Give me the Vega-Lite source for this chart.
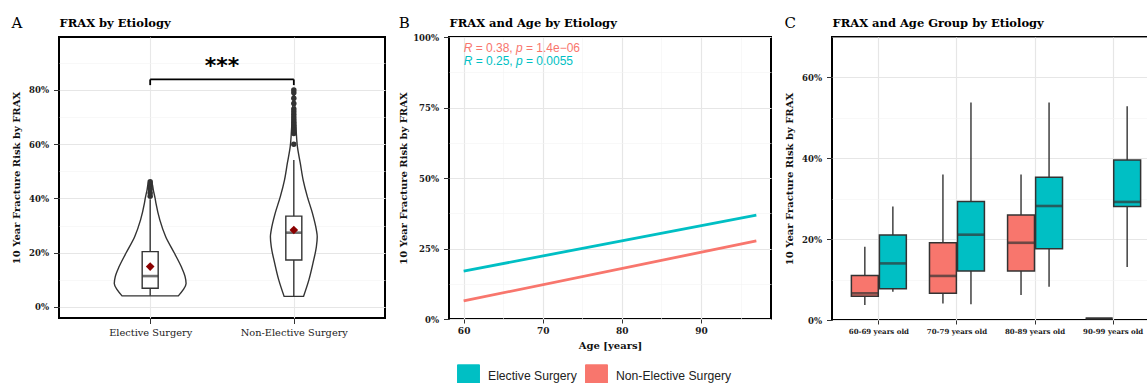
{
  "$schema": "https://vega.github.io/schema/vega-lite/v6.json",
  "background": "white",
  "padding": {"left": 10, "top": 15, "right": 0, "bottom": 0},
  "spacing": 11,
  "resolve": {"scale": {"stroke": "shared"}, "legend": {"stroke": "independent"}},
  "config": {
    "font": "DejaVu Serif",
    "view": {"stroke": "black", "strokeWidth": 2},
    "axis": {
      "domain": false,
      "labelFont": "DejaVu Serif",
      "labelFontWeight": "bold",
      "labelFontSize": 8.5,
      "labelColor": "#1a1a1a",
      "labelPadding": 5,
      "tickColor": "#333333",
      "tickSize": 5.5,
      "tickWidth": 1,
      "titleFont": "DejaVu Serif",
      "titleFontWeight": "bold",
      "titleFontSize": 10,
      "titleColor": "#111111",
      "gridColor": "#e8e8e8",
      "gridWidth": 1.1
    },
    "title": {"font": "DejaVu Serif", "fontSize": 15, "fontWeight": "normal", "anchor": "start", "frame": "bounds", "color": "black", "offset": -14}
  },
  "datasets": {
    "violin": [
      {"etiology": "Elective Surgery", "frax": 0.041, "density": 0.196},
      {"etiology": "Elective Surgery", "frax": 0.063, "density": 0.229},
      {"etiology": "Elective Surgery", "frax": 0.087, "density": 0.250},
      {"etiology": "Elective Surgery", "frax": 0.112, "density": 0.243},
      {"etiology": "Elective Surgery", "frax": 0.149, "density": 0.216},
      {"etiology": "Elective Surgery", "frax": 0.198, "density": 0.169},
      {"etiology": "Elective Surgery", "frax": 0.259, "density": 0.108},
      {"etiology": "Elective Surgery", "frax": 0.321, "density": 0.067},
      {"etiology": "Elective Surgery", "frax": 0.383, "density": 0.040},
      {"etiology": "Elective Surgery", "frax": 0.401, "density": 0.034},
      {"etiology": "Elective Surgery", "frax": 0.431, "density": 0.022},
      {"etiology": "Elective Surgery", "frax": 0.455, "density": 0.013},
      {"etiology": "Elective Surgery", "frax": 0.464, "density": 0.0},
      {"etiology": "Non-Elective Surgery", "frax": 0.039, "density": 0.0675},
      {"etiology": "Non-Elective Surgery", "frax": 0.100, "density": 0.105},
      {"etiology": "Non-Elective Surgery", "frax": 0.161, "density": 0.133},
      {"etiology": "Non-Elective Surgery", "frax": 0.222, "density": 0.157},
      {"etiology": "Non-Elective Surgery", "frax": 0.259, "density": 0.163},
      {"etiology": "Non-Elective Surgery", "frax": 0.284, "density": 0.157},
      {"etiology": "Non-Elective Surgery", "frax": 0.345, "density": 0.130},
      {"etiology": "Non-Elective Surgery", "frax": 0.407, "density": 0.094},
      {"etiology": "Non-Elective Surgery", "frax": 0.468, "density": 0.065},
      {"etiology": "Non-Elective Surgery", "frax": 0.530, "density": 0.045},
      {"etiology": "Non-Elective Surgery", "frax": 0.591, "density": 0.025},
      {"etiology": "Non-Elective Surgery", "frax": 0.653, "density": 0.016},
      {"etiology": "Non-Elective Surgery", "frax": 0.715, "density": 0.009},
      {"etiology": "Non-Elective Surgery", "frax": 0.770, "density": 0.005},
      {"etiology": "Non-Elective Surgery", "frax": 0.806, "density": 0.0}
    ],
    "boxA": [
      {"etiology": "Elective Surgery", "lower": 0.041, "q1": 0.069, "median": 0.114, "q3": 0.204, "upper": 0.397, "mean": 0.149},
      {"etiology": "Non-Elective Surgery", "lower": 0.039, "q1": 0.173, "median": 0.274, "q3": 0.335, "upper": 0.542, "mean": 0.284}
    ],
    "outliersA": [
      {"etiology": "Elective Surgery", "frax": 0.408},
      {"etiology": "Elective Surgery", "frax": 0.42},
      {"etiology": "Elective Surgery", "frax": 0.435},
      {"etiology": "Elective Surgery", "frax": 0.445},
      {"etiology": "Elective Surgery", "frax": 0.455},
      {"etiology": "Elective Surgery", "frax": 0.462},
      {"etiology": "Non-Elective Surgery", "frax": 0.60},
      {"etiology": "Non-Elective Surgery", "frax": 0.64},
      {"etiology": "Non-Elective Surgery", "frax": 0.65},
      {"etiology": "Non-Elective Surgery", "frax": 0.66},
      {"etiology": "Non-Elective Surgery", "frax": 0.67},
      {"etiology": "Non-Elective Surgery", "frax": 0.68},
      {"etiology": "Non-Elective Surgery", "frax": 0.69},
      {"etiology": "Non-Elective Surgery", "frax": 0.70},
      {"etiology": "Non-Elective Surgery", "frax": 0.71},
      {"etiology": "Non-Elective Surgery", "frax": 0.72},
      {"etiology": "Non-Elective Surgery", "frax": 0.73},
      {"etiology": "Non-Elective Surgery", "frax": 0.75},
      {"etiology": "Non-Elective Surgery", "frax": 0.77},
      {"etiology": "Non-Elective Surgery", "frax": 0.79},
      {"etiology": "Non-Elective Surgery", "frax": 0.80}
    ],
    "bracket": [
      {"from": 1, "to": 2, "top": 0.839, "bottom": 0.839},
      {"from": 1, "to": 1, "top": 0.839, "bottom": 0.818},
      {"from": 2, "to": 2, "top": 0.839, "bottom": 0.818}
    ],
    "fitB": [
      {"etiology": "Elective Surgery", "age": 60, "frax": 0.170},
      {"etiology": "Elective Surgery", "age": 97, "frax": 0.368},
      {"etiology": "Non-Elective Surgery", "age": 60, "frax": 0.064},
      {"etiology": "Non-Elective Surgery", "age": 97, "frax": 0.277}
    ],
    "corB": [
      {"etiology": "Non-Elective Surgery", "r": "R", "rtext": "= 0.38,", "p": "p", "ptext": "= 1.4e\u221206", "age": 60, "level": 0.962},
      {"etiology": "Elective Surgery", "r": "R", "rtext": "= 0.25,", "p": "p", "ptext": "= 0.0055", "age": 60, "level": 0.915}
    ],
    "boxC": [
      {"age": "60-69 years old", "etiology": "Non-Elective Surgery", "lower": 0.037, "q1": 0.059, "median": 0.066, "q3": 0.110, "upper": 0.181},
      {"age": "60-69 years old", "etiology": "Elective Surgery", "lower": 0.070, "q1": 0.077, "median": 0.140, "q3": 0.210, "upper": 0.281},
      {"age": "70-79 years old", "etiology": "Non-Elective Surgery", "lower": 0.041, "q1": 0.066, "median": 0.109, "q3": 0.191, "upper": 0.360},
      {"age": "70-79 years old", "etiology": "Elective Surgery", "lower": 0.039, "q1": 0.121, "median": 0.211, "q3": 0.293, "upper": 0.538},
      {"age": "80-89 years old", "etiology": "Non-Elective Surgery", "lower": 0.062, "q1": 0.121, "median": 0.191, "q3": 0.260, "upper": 0.360},
      {"age": "80-89 years old", "etiology": "Elective Surgery", "lower": 0.082, "q1": 0.176, "median": 0.282, "q3": 0.353, "upper": 0.538},
      {"age": "90-99 years old", "etiology": "Non-Elective Surgery", "lower": 0.004, "q1": 0.004, "median": 0.004, "q3": 0.004, "upper": 0.004},
      {"age": "90-99 years old", "etiology": "Elective Surgery", "lower": 0.131, "q1": 0.281, "median": 0.292, "q3": 0.396, "upper": 0.529}
    ]
  },
  "hconcat": [
    {
      "width": 326,
      "height": 281,
      "title": "A",
      "layer": [
        {
          "data": {"name": "violin"},
          "transform": [
            {"calculate": "indexof(['Elective Surgery', 'Non-Elective Surgery'], datum.etiology) + 1", "as": "pos"},
            {"calculate": "datum.pos - datum.density", "as": "left"},
            {"calculate": "datum.pos + datum.density", "as": "right"}
          ],
          "mark": {"type": "area", "orient": "horizontal", "interpolate": "monotone", "fill": "white", "stroke": "#333333", "strokeWidth": 1.4},
          "encoding": {
            "y": {
              "field": "frax", "type": "quantitative",
              "scale": {"domain": [-0.0406, 0.9954], "nice": false, "zero": false},
              "axis": {
                "title": "10 Year Fracture Risk by FRAX",
                "titlePadding": 7,
                "values": [0, 0.1, 0.2, 0.3, 0.4, 0.5, 0.6, 0.7, 0.8, 0.9],
                "labelExpr": "round(datum.value * 100) % 20 === 0 ? format(datum.value, '.0%') : ''",
                "tickOpacity": {"condition": {"test": "round(datum.value * 100) % 20 === 0", "value": 1}, "value": 0},
                "gridColor": {"condition": {"test": "round(datum.value * 100) % 20 === 0", "value": "#e6e6e6"}, "value": "#f3f3f3"},
                "gridWidth": {"condition": {"test": "round(datum.value * 100) % 20 === 0", "value": 1.2}, "value": 0.6}
              }
            },
            "x": {
              "field": "left", "type": "quantitative", "stack": null,
              "scale": {"domain": [0.4, 2.6], "nice": false, "zero": false},
              "axis": {
                "title": null,
                "values": [1, 2],
                "labelExpr": "datum.value === 1 ? 'Elective Surgery' : 'Non-Elective Surgery'",
                "labelFontSize": 9.8,
                "labelFontWeight": "normal",
                "labelPadding": 4
              }
            },
            "x2": {"field": "right"},
            "detail": {"field": "etiology"}
          }
        },
        {
          "data": {"name": "boxA"},
          "transform": [{"calculate": "indexof(['Elective Surgery', 'Non-Elective Surgery'], datum.etiology) + 1", "as": "pos"}],
          "mark": {"type": "rule", "color": "#333333", "strokeWidth": 1.4},
          "encoding": {
            "x": {"field": "pos", "type": "quantitative", "axis": null},
            "y": {"field": "lower", "type": "quantitative", "axis": null},
            "y2": {"field": "upper"}
          }
        },
        {
          "data": {"name": "boxA"},
          "transform": [{"calculate": "indexof(['Elective Surgery', 'Non-Elective Surgery'], datum.etiology) + 1", "as": "pos"}],
          "mark": {"type": "bar", "orient": "vertical", "width": 16, "fill": "white", "stroke": "#333333", "strokeWidth": 1.4},
          "encoding": {
            "x": {"field": "pos", "type": "quantitative", "axis": null},
            "y": {"field": "q1", "type": "quantitative", "axis": null},
            "y2": {"field": "q3"}
          }
        },
        {
          "data": {"name": "boxA"},
          "transform": [{"calculate": "indexof(['Elective Surgery', 'Non-Elective Surgery'], datum.etiology) + 1", "as": "pos"}],
          "mark": {"type": "tick", "orient": "horizontal", "size": 16, "thickness": 2.6, "color": "#333333"},
          "encoding": {
            "x": {"field": "pos", "type": "quantitative", "axis": null},
            "y": {"field": "median", "type": "quantitative", "axis": null}
          }
        },
        {
          "data": {"name": "outliersA"},
          "transform": [{"calculate": "indexof(['Elective Surgery', 'Non-Elective Surgery'], datum.etiology) + 1", "as": "pos"}],
          "mark": {"type": "point", "filled": true, "color": "#333333", "size": 30, "opacity": 1},
          "encoding": {
            "x": {"field": "pos", "type": "quantitative", "axis": {"orient": "top", "title": "FRAX by Etiology", "titleAnchor": "start", "titleFontSize": 11.5, "titleFontWeight": "bold", "titleColor": "black", "titlePadding": 9, "labels": false, "ticks": false, "domain": false, "grid": false}},
            "y": {"field": "frax", "type": "quantitative", "axis": null}
          }
        },
        {
          "data": {"name": "boxA"},
          "transform": [{"calculate": "indexof(['Elective Surgery', 'Non-Elective Surgery'], datum.etiology) + 1", "as": "pos"}],
          "mark": {"type": "point", "shape": "diamond", "filled": true, "color": "#8b0000", "size": 75, "opacity": 1},
          "encoding": {
            "x": {"field": "pos", "type": "quantitative", "axis": null},
            "y": {"field": "mean", "type": "quantitative", "axis": null}
          }
        },
        {
          "data": {"name": "bracket"},
          "mark": {"type": "rule", "color": "black", "strokeWidth": 1.8},
          "encoding": {
            "x": {"field": "from", "type": "quantitative", "axis": null},
            "x2": {"field": "to"},
            "y": {"field": "top", "type": "quantitative", "axis": null},
            "y2": {"field": "bottom"}
          }
        },
        {
          "data": {"values": [{"label": "***", "mid": 1.5, "level": 0.862}]},
          "mark": {"type": "text", "font": "DejaVu Sans", "fontSize": 22, "fontWeight": "bold", "baseline": "alphabetic", "align": "center", "color": "black"},
          "encoding": {
            "text": {"field": "label"},
            "x": {"field": "mid", "type": "quantitative", "axis": null},
            "y": {"field": "level", "type": "quantitative", "axis": null}
          }
        }
      ],
      "resolve": {"axis": {"x": "independent", "y": "independent"}}
    },
    {
      "width": 322,
      "height": 282,
      "title": "B",
      "layer": [
        {
          "data": {"name": "fitB"},
          "mark": {"type": "line", "strokeWidth": 2.8},
          "encoding": {
            "x": {
              "field": "age", "type": "quantitative",
              "scale": {"domain": [58.15, 98.85], "nice": false, "zero": false},
              "axis": {
                "title": "Age [years]",
                "titleFontSize": 10,
                "titlePadding": 5,
                "values": [60, 65, 70, 75, 80, 85, 90, 95],
                "labelExpr": "datum.value % 10 === 0 ? datum.value : ''",
                "labelFontSize": 9,
                "labelPadding": 3,
                "tickSize": 4,
                "tickOpacity": {"condition": {"test": "datum.value % 10 === 0", "value": 1}, "value": 0},
                "gridColor": {"condition": {"test": "datum.value % 10 === 0", "value": "#e6e6e6"}, "value": "#f3f3f3"},
                "gridWidth": {"condition": {"test": "datum.value % 10 === 0", "value": 1.2}, "value": 0.6}
              }
            },
            "y": {
              "field": "frax", "type": "quantitative",
              "scale": {"domain": [0, 1], "nice": false, "zero": false},
              "axis": {
                "title": "10 Year Fracture Risk by FRAX",
                "titlePadding": 4,
                "values": [0, 0.125, 0.25, 0.375, 0.5, 0.625, 0.75, 0.875, 1],
                "labelExpr": "round(datum.value * 1000) % 250 === 0 ? format(datum.value, '.0%') : ''",
                "tickOpacity": {"condition": {"test": "round(datum.value * 1000) % 250 === 0", "value": 1}, "value": 0},
                "gridColor": {"condition": {"test": "round(datum.value * 1000) % 250 === 0", "value": "#e6e6e6"}, "value": "#f3f3f3"},
                "gridWidth": {"condition": {"test": "round(datum.value * 1000) % 250 === 0", "value": 1.2}, "value": 0.6}
              }
            },
            "stroke": {
              "field": "etiology", "type": "nominal",
              "scale": {"domain": ["Elective Surgery", "Non-Elective Surgery"], "range": ["#00BFC4", "#F8766D"]},
              "legend": {
                "orient": "bottom", "direction": "horizontal", "title": null, "offset": 6, "padding": 8,
                "symbolType": "square", "symbolSize": 480,
                "labelFont": "Liberation Sans", "labelFontSize": 12.2, "labelColor": "#222222", "labelOffset": 8, "columnPadding": 6,
                "encode": {
                  "symbols": {
                    "update": {
                      "fill": {"scale": "stroke", "field": "value"},
                      "stroke": {"value": "#444444"},
                      "strokeWidth": {"value": 1},
                      "opacity": {"value": 1}
                    }
                  }
                }
              }
            }
          }
        },
        {
          "data": {"name": "corB"},
          "mark": {"type": "text", "align": "left", "baseline": "middle", "font": "Liberation Sans", "fontSize": 12, "fontStyle": "italic"},
          "encoding": {
            "text": {"field": "r"},
            "x": {"field": "age", "type": "quantitative", "axis": {"orient": "top", "title": "FRAX and Age by Etiology", "titleAnchor": "start", "titleFontSize": 11.5, "titleFontWeight": "bold", "titleColor": "black", "titlePadding": 9, "labels": false, "ticks": false, "domain": false, "grid": false}},
            "y": {"field": "level", "type": "quantitative", "axis": null},
            "color": {"field": "etiology", "type": "nominal", "scale": {"domain": ["Elective Surgery", "Non-Elective Surgery"], "range": ["#00BFC4", "#F8766D"]}, "legend": null}
          }
        },
        {
          "data": {"name": "corB"},
          "mark": {"type": "text", "align": "left", "baseline": "middle", "font": "Liberation Sans", "fontSize": 12, "dx": 12},
          "encoding": {
            "text": {"field": "rtext"},
            "x": {"field": "age", "type": "quantitative", "axis": null},
            "y": {"field": "level", "type": "quantitative", "axis": null},
            "color": {"field": "etiology", "type": "nominal", "legend": null}
          }
        },
        {
          "data": {"name": "corB"},
          "mark": {"type": "text", "align": "left", "baseline": "middle", "font": "Liberation Sans", "fontSize": 12, "fontStyle": "italic", "dx": 52.3},
          "encoding": {
            "text": {"field": "p"},
            "x": {"field": "age", "type": "quantitative", "axis": null},
            "y": {"field": "level", "type": "quantitative", "axis": null},
            "color": {"field": "etiology", "type": "nominal", "legend": null}
          }
        },
        {
          "data": {"name": "corB"},
          "mark": {"type": "text", "align": "left", "baseline": "middle", "font": "Liberation Sans", "fontSize": 12, "dx": 62.3},
          "encoding": {
            "text": {"field": "ptext"},
            "x": {"field": "age", "type": "quantitative", "axis": null},
            "y": {"field": "level", "type": "quantitative", "axis": null},
            "color": {"field": "etiology", "type": "nominal", "legend": null}
          }
        }
      ],
      "resolve": {"axis": {"x": "independent", "y": "independent"}}
    },
    {
      "width": 328,
      "height": 283,
      "title": "C",
      "data": {"name": "boxC"},
      "layer": [
        {
          "mark": {"type": "rule", "color": "#333333", "strokeWidth": 1.4},
          "encoding": {
            "x": {
              "field": "age", "type": "nominal",
              "scale": {"paddingInner": 0, "paddingOuter": 0.1},
              "axis": {"title": null, "labelAngle": 0, "labelFontSize": 7, "labelPadding": 3, "tickSize": 4, "bandPosition": 0.5, "grid": true, "gridColor": "#e6e6e6", "gridWidth": 1.2}
            },
            "xOffset": {
              "field": "etiology", "type": "nominal",
              "scale": {"domain": ["Non-Elective Surgery", "Elective Surgery"], "paddingInner": 0.04, "paddingOuter": 0.413}
            },
            "y": {
              "field": "lower", "type": "quantitative",
              "scale": {"domain": [0, 0.7], "nice": false, "zero": false},
              "axis": {
                "title": "10 Year Fracture Risk by FRAX",
                "titlePadding": 7,
                "values": [0, 0.1, 0.2, 0.3, 0.4, 0.5, 0.6, 0.7],
                "labelExpr": "round(datum.value * 100) % 20 === 0 ? format(datum.value, '.0%') : ''",
                "tickOpacity": {"condition": {"test": "round(datum.value * 100) % 20 === 0", "value": 1}, "value": 0},
                "gridColor": {"condition": {"test": "round(datum.value * 100) % 20 === 0", "value": "#e6e6e6"}, "value": "#f3f3f3"},
                "gridWidth": {"condition": {"test": "round(datum.value * 100) % 20 === 0", "value": 1.2}, "value": 0.6}
              }
            },
            "y2": {"field": "upper"}
          }
        },
        {
          "mark": {"type": "bar", "stroke": "#333333", "strokeWidth": 1.5},
          "encoding": {
            "x": {"field": "age", "type": "nominal", "axis": {"orient": "top", "title": "FRAX and Age Group by Etiology", "titleAnchor": "start", "titleFontSize": 11.5, "titleFontWeight": "bold", "titleColor": "black", "titlePadding": 9, "labels": false, "ticks": false, "domain": false, "grid": false}},
            "xOffset": {"field": "etiology", "type": "nominal"},
            "y": {"field": "q1", "type": "quantitative", "axis": null},
            "y2": {"field": "q3"},
            "fill": {
              "field": "etiology", "type": "nominal",
              "scale": {"domain": ["Elective Surgery", "Non-Elective Surgery"], "range": ["#00BFC4", "#F8766D"]},
              "legend": null
            }
          }
        },
        {
          "mark": {"type": "tick", "orient": "horizontal", "size": 27, "thickness": 2.6, "color": "#333333"},
          "encoding": {
            "x": {"field": "age", "type": "nominal", "axis": null},
            "xOffset": {"field": "etiology", "type": "nominal"},
            "y": {"field": "median", "type": "quantitative", "axis": null}
          }
        }
      ],
      "resolve": {"axis": {"x": "independent", "y": "independent"}}
    }
  ]
}
